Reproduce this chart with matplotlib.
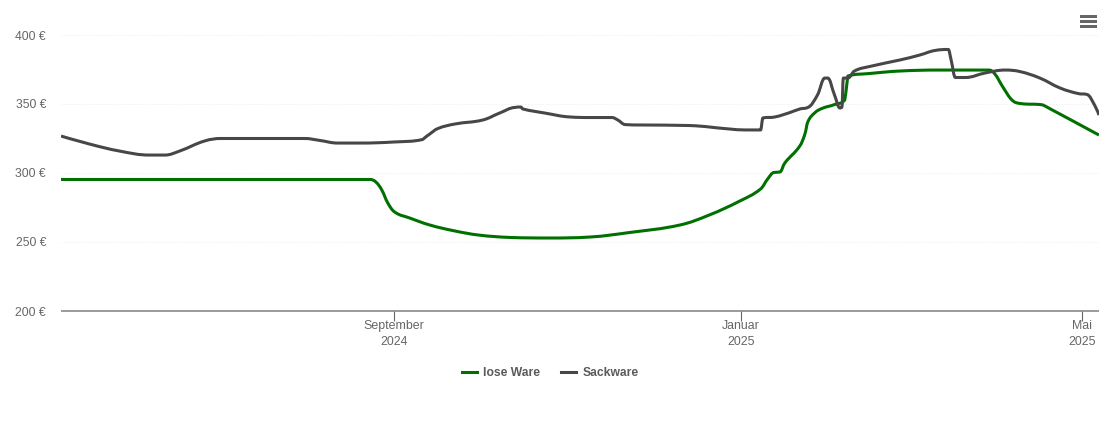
#!/usr/bin/env python3
# -*- coding: utf-8 -*-
import matplotlib as mpl
mpl.use('Agg')
import matplotlib.dates as mdates
import matplotlib.pyplot as plt
from matplotlib.lines import Line2D
from matplotlib.patches import PathPatch, Rectangle
from matplotlib.path import Path
import pandas as pd

plt.rcParams['font.family'] = ['Liberation Sans', 'DejaVu Sans']

START = pd.Timestamp('2024-09-01')

# days relative to 1 Sep 2024, price in euro
lose_days = [-117, -8.4, -6.3, -4.2, -2.1, 0.35, 5.6, 12.7, 21.5, 30, 40.8, 54.9, 68.9, 83, 100.6,
             111, 121.7, 129, 131.5, 133.7, 135.8, 137.5, 142.8, 144.6, 145.6, 148, 150.5, 155,
             158.6, 159.3, 159.7, 167.4, 178, 192, 209.3, 211.4, 214.2, 217.4, 220.2, 228.3, 231, 238, 246, 248]
lose_vals = [295.3, 295.3, 293.5, 287.7, 278.3, 271.7, 267.4, 262.3, 258, 255, 253.3, 252.9, 253.6, 256.9, 262.3,
             269.6, 279.7, 288.4, 295.7, 300.4, 300.7, 307.2, 319.6, 328.3, 337, 343.5, 346.7, 349.6,
             352.9, 363.8, 370.3, 372.1, 373.9, 374.6, 374.6, 371.7, 362.3, 352.9, 350.4, 349.3, 346.3, 338.6, 329.7, 327.5]

sack_days = [-117, -107, -96.4, -85.8, -80.5, -75.3, -66.5, -60.5, -54.2, -31.3, -26, -19.7, -12, 0.35,
             10.2, 12.7, 15.5, 21.5, 31.3, 37.3, 42.6, 44.7, 45.4, 53, 62, 69, 76.7, 78.8, 81.3, 86.5,
             104, 118, 123.5, 129, 129.8, 134, 139.3, 142.8, 145.6, 149, 151.6, 152.6, 155, 156.9, 157.6,
             158.1, 159.7, 162, 167.4, 178, 185, 190.4, 195, 196, 197.5, 201, 208, 215, 220.2, 227.2,
             234.3, 240.6, 243.8, 246.6, 248]
sack_vals = [326.8, 321, 315.9, 313, 313, 315.9, 323.2, 325, 325, 325, 323.6, 321.7, 321.7, 322.5,
             324.3, 328.3, 332.2, 335.5, 338.4, 343.5, 347.5, 347.8, 346.4, 343.5, 340.6, 340.2, 340.2, 338.4, 335.1, 334.8,
             334.4, 331.9, 331.2, 331.2, 339.9, 340.6, 343.8, 346.4, 347.5, 356.5, 368.8, 368.8, 356.5, 347.1, 347.8,
             368.8, 368.8, 373.9, 377.2, 381.9, 385.5, 388.8, 389.5, 381.9, 369.2, 369.2, 372.5, 374.6, 373.5, 368.8,
             361.6, 357.6, 356.9, 348.6, 342]

y_ticks = [200, 250, 300, 350, 400]
x_tick_dates = ['2024-09-01', '2025-01-01', '2025-05-01']
x_tick_labels = ['September\n2024', 'Januar\n2025', 'Mai\n2025']

COL_LOSE = '#007000'
COL_SACK = '#474747'


def to_dates(days):
    return mdates.date2num(START + pd.to_timedelta(days, unit='D'))


def spline_path(xs, ys, smoothing=1.5):
    # bezier through the points, control points clamped so the curve does not overshoot
    n = len(xs)
    verts = [(xs[0], ys[0])]
    codes = [Path.MOVETO]
    right = (xs[0], ys[0])
    for i in range(1, n):
        x, y = xs[i], ys[i]
        if i < n - 1:
            xp, yp = xs[i - 1], ys[i - 1]
            xn, yn = xs[i + 1], ys[i + 1]
            lx = (smoothing * x + xp) / (smoothing + 1)
            ly = (smoothing * y + yp) / (smoothing + 1)
            rx = (smoothing * x + xn) / (smoothing + 1)
            ry = (smoothing * y + yn) / (smoothing + 1)
            corr = (ry - ly) * (rx - x) / (rx - lx) + y - ry
            ly += corr
            ry += corr
            if ly > max(yp, y):
                ly = max(yp, y)
                ry = 2 * y - ly
            elif ly < min(yp, y):
                ly = min(yp, y)
                ry = 2 * y - ly
            if ry > max(yn, y):
                ry = max(yn, y)
                ly = 2 * y - ry
            elif ry < min(yn, y):
                ry = min(yn, y)
                ly = 2 * y - ry
        else:
            lx, ly = x, y
            rx, ry = x, y
        verts += [right, (lx, ly), (x, y)]
        codes += [Path.CURVE4, Path.CURVE4, Path.CURVE4]
        right = (rx, ry)
    return Path(verts, codes)


W, H = 1110, 422
fig = plt.figure(figsize=(W / 100, H / 100), dpi=100, facecolor='white')
ax = fig.add_axes([61 / W, 1 - 311 / H, (1099 - 61) / W, (311 - 35) / H])

for days, vals, col, z in [(lose_days, lose_vals, COL_LOSE, 3), (sack_days, sack_vals, COL_SACK, 4)]:
    ax.add_patch(PathPatch(spline_path(to_dates(days), vals), facecolor='none', edgecolor=col,
                           lw=2.2, joinstyle='round', capstyle='butt', zorder=z))

ax.set_xlim(mdates.date2num(START + pd.Timedelta(days=-117)), mdates.date2num(START + pd.Timedelta(days=248)))
ax.set_ylim(200, 400)
ax.xaxis_date()

for spine in ['top', 'right', 'left']:
    ax.spines[spine].set_visible(False)
ax.spines['bottom'].set_color('#7f7f7f')
ax.spines['bottom'].set_linewidth(1.1)
ax.spines['bottom'].set_capstyle('butt')

ax.set_yticks(y_ticks)
ax.set_yticklabels([f'{v} €' for v in y_ticks])
ax.tick_params(axis='y', length=0, pad=10.8, labelsize=8.7, labelcolor='#666666')
ax.grid(axis='y', color='#ececec', lw=0.7, ls=(0, (1, 2)))
ax.set_axisbelow(True)

ax.set_xticks(pd.to_datetime(x_tick_dates))
ax.set_xticklabels(x_tick_labels, linespacing=1.36)
ax.tick_params(axis='x', length=7.2, width=0.8, color='#666666', pad=-0.5, labelsize=8.9, labelcolor='#666666')

handles = [Line2D([], [], color=COL_LOSE, lw=2.2, label='lose Ware'),
           Line2D([], [], color=COL_SACK, lw=2.2, label='Sackware')]
leg = ax.legend(handles=handles, loc='center', bbox_to_anchor=(550 / W, 1 - 373 / H), bbox_transform=fig.transFigure,
                ncol=2, frameon=False, handlelength=1.25, handletextpad=0.5, columnspacing=1.75,
                prop={'weight': 'bold', 'size': 8.7}, labelcolor='#5a5a5a')

# menu icon top right
for y_px in [15, 20, 25]:
    fig.add_artist(Rectangle((1080 / W, 1 - (y_px + 2.6) / H), 16.5 / W, 2.6 / H, transform=fig.transFigure,
                             facecolor='#666666', edgecolor='none'))

plt.savefig('out.png', dpi=100, facecolor='white')
plt.close()
